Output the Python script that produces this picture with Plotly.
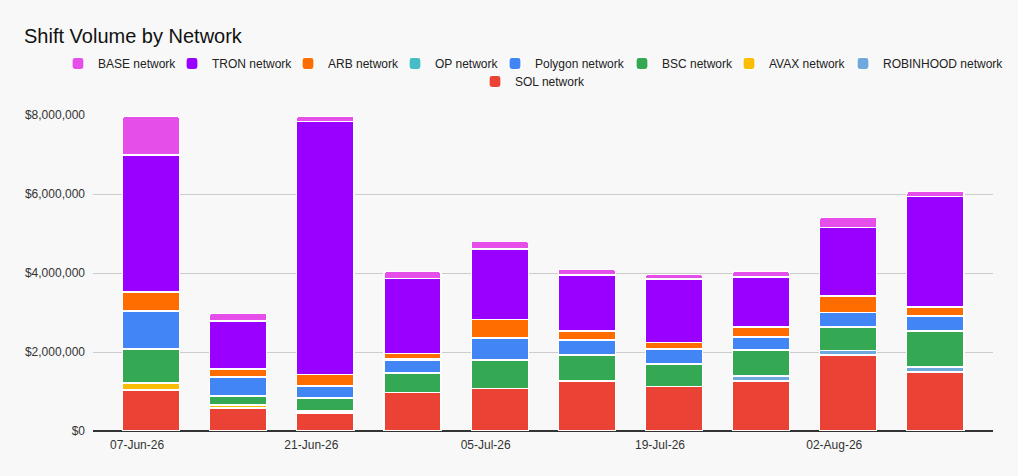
import plotly.graph_objects as go

# weekly buckets (week start)
weeks = ["2026-06-07", "2026-06-14", "2026-06-21", "2026-06-28", "2026-07-05",
         "2026-07-12", "2026-07-19", "2026-07-26", "2026-08-02", "2026-08-09"]

# volumes in USD
sol = [1038000, 582000, 456000, 970000, 1080000, 1266000, 1131000, 1266000, 1924000, 1494000]
robinhood = [0, 0, 0, 0, 0, 0, 0, 127000, 118000, 127000]
avax = [177000, 76000, 51000, 0, 0, 0, 0, 0, 0, 0]
bsc = [861000, 228000, 329000, 498000, 717000, 658000, 565000, 658000, 591000, 911000]
polygon = [962000, 481000, 304000, 329000, 557000, 380000, 380000, 329000, 363000, 380000]
op = [0, 0, 0, 40000, 0, 0, 0, 0, 0, 0]
arb = [481000, 203000, 287000, 135000, 473000, 228000, 169000, 253000, 422000, 228000]
tron = [3468000, 1215000, 6414000, 1899000, 1781000, 1418000, 1603000, 1266000, 1738000, 2802000]
base = [970000, 186000, 118000, 160000, 186000, 135000, 110000, 135000, 245000, 118000]

# stacking order, bottom to top
series = [
    ("SOL network", sol, "#ea4335"),
    ("ROBINHOOD network", robinhood, "#6fa8dc"),
    ("AVAX network", avax, "#fbbc04"),
    ("BSC network", bsc, "#34a853"),
    ("Polygon network", polygon, "#4285f4"),
    ("OP network", op, "#46bdc6"),
    ("ARB network", arb, "#ff6d01"),
    ("TRON network", tron, "#9900ff"),
    ("BASE network", base, "#e54ee8"),
]

# legend layout like the sheets chart: one legend per entry so the rows stay compact
# (name, swatch left px, row centre px)
legend_spots = [
    ("BASE network", 71, 63.5),
    ("TRON network", 185, 63.5),
    ("ARB network", 301, 63.5),
    ("OP network", 408, 63.5),
    ("Polygon network", 508, 63.5),
    ("BSC network", 635, 63.5),
    ("AVAX network", 742, 63.5),
    ("ROBINHOOD network", 856, 63.5),
    ("SOL network", 488, 81.5),
]
W, H = 1018, 476
legend_ids = {}
legend_layout = {}
for i, (name, sx, cy) in enumerate(legend_spots):
    key = "legend" if i == 0 else f"legend{i + 1}"
    legend_ids[name] = key
    legend_layout[key] = dict(
        orientation="h",
        xref="container", yref="container",
        x=(sx - 13) / W, xanchor="left",
        y=1 - cy / H, yanchor="middle",
        bgcolor="rgba(0,0,0,0)",
        font=dict(size=12, color="#222"),
    )

fig = go.Figure()
for name, vals, col in series:
    fig.add_trace(go.Bar(
        x=weeks, y=vals, name=name,
        marker=dict(color=col, line=dict(color="white", width=1.2)),
        legend=legend_ids[name],
    ))

fig.update_layout(
    width=W, height=H,
    barmode="stack",
    bargap=0.345,
    barcornerradius=2,
    paper_bgcolor="#f8f8f8",
    plot_bgcolor="#f8f8f8",
    font=dict(family="Arial, Liberation Sans, sans-serif", size=12, color="#333"),
    title=dict(text="Shift Volume by Network", x=24 / W, xanchor="left",
               xref="container", yref="container", y=1 - 36 / H, yanchor="middle",
               font=dict(size=20, color="#111")),
    margin=dict(l=93, r=25, t=115, b=45, autoexpand=False),
    showlegend=True,
    **legend_layout,
)

fig.update_xaxes(
    type="date",
    range=["2026-06-02 08:00", "2026-08-13 15:00"],
    tick0="2026-06-07", dtick=14 * 24 * 3600 * 1000,
    tickformat="%d-%b-%y",
    ticklabelshift=-14, ticklabelstandoff=5,
    showgrid=False, ticks="",
    tickfont=dict(size=12, color="#333"),
)
fig.update_yaxes(
    range=[0, 8000000], dtick=2000000,
    tickformat="$,.0f",
    gridcolor="#cccccc", gridwidth=1,
    zeroline=True, zerolinecolor="#333", zerolinewidth=1.5,
    ticks="", ticklabelstandoff=7,
    tickfont=dict(size=12, color="#333"),
)

# page body has a default margin; drop it so the chart sits at 0,0
fig.write_html("out.html", config={"displayModeBar": False},
               post_script="document.body.style.margin='0';")
